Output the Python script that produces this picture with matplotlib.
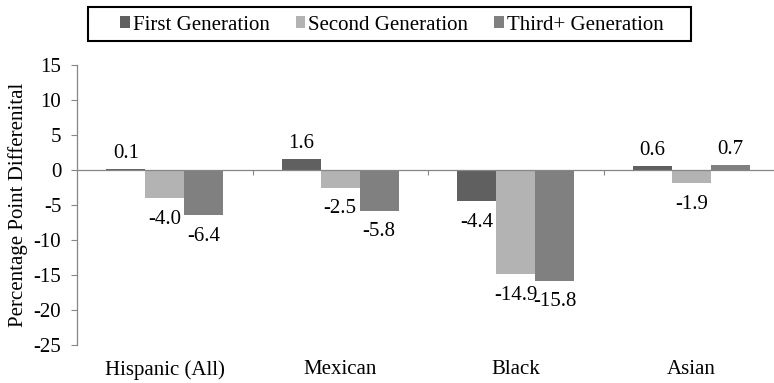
import matplotlib
matplotlib.use("Agg")
import matplotlib.pyplot as plt
import numpy as np
from matplotlib.patches import Patch, Rectangle
import matplotlib.transforms as mtransforms

categories = ["Hispanic (All)", "Mexican", "Black", "Asian"]
series_names = ["First Generation", "Second Generation", "Third+ Generation"]
first_gen = [0.1, 1.6, -4.4, 0.6]
second_gen = [-4.0, -2.5, -14.9, -1.9]
third_gen = [-6.4, -5.8, -15.8, 0.7]
colors = ["#606060", "#b3b3b3", "#808080"]
yticks = [15, 10, 5, 0, -5, -10, -15, -20, -25]

plt.rcParams['font.family'] = ['Liberation Serif', 'DejaVu Serif']
FS = 15

fig = plt.figure(figsize=(7.74, 3.83), dpi=100)
ax = fig.add_axes([77/774, 38/383, 702/774, 280/383])

x = np.arange(len(categories))
w = 0.222
data = [first_gen, second_gen, third_gen]
for i, (vals, c) in enumerate(zip(data, colors)):
    xs = x + (i - 1) * w
    ax.bar(xs, vals, width=w, color=c, edgecolor='none', zorder=2)
    for xi, v in zip(xs, vals):
        if v >= 0:
            ax.annotate(f"{v:.1f}", (xi, v), xytext=(0, 4.5), textcoords='offset points',
                        ha='center', va='bottom', fontsize=FS)
        else:
            ax.annotate(f"{v:.1f}", (xi, v), xytext=(0, -8.5), textcoords='offset points',
                        ha='center', va='top', fontsize=FS)

ax.set_xlim(-0.5, len(categories) - 0.5)
ax.set_ylim(-25, 15)
ax.set_yticks(yticks)
ax.set_yticklabels([str(t) for t in yticks], fontsize=FS)
ax.tick_params(axis='y', direction='out', length=4.3, width=0.8, color='#868686', pad=7)

for s in ['top', 'right']:
    ax.spines[s].set_visible(False)
ax.spines['left'].set_color('#868686')
ax.spines['left'].set_linewidth(0.9)
ax.spines['bottom'].set_position(('data', 0))
ax.spines['bottom'].set_color('#868686')
ax.spines['bottom'].set_linewidth(0.9)
ax.spines['bottom'].set_zorder(3)

ax.set_xticks(x + 0.5)
ax.set_xticklabels([])
ax.tick_params(axis='x', direction='out', length=3.6, width=0.8, color='#868686')

trans = mtransforms.blended_transform_factory(ax.transData, ax.transAxes)
for xi, name in zip(x, categories):
    ax.text(xi, -0.089, name, transform=trans, ha='center', va='center', fontsize=FS)

ax.set_ylabel("Percentage Point Differenital", fontsize=FS, labelpad=4)

handles = [Patch(facecolor=c, edgecolor='none') for c in colors]
leg = fig.legend(handles, series_names, loc='center', bbox_to_anchor=(392/774, 1 - 25/383),
                 ncol=3, fontsize=FS, frameon=False, handlelength=0.45,
                 handleheight=0.45, handletextpad=0.15, columnspacing=1.25, borderpad=0.2)
fig.patches.append(Rectangle((88/774, 1 - 41/383), (691 - 88)/774, 34/383,
                             transform=fig.transFigure, fill=False, edgecolor='black',
                             linewidth=1.5))

fig.savefig("out.png", dpi=100)
